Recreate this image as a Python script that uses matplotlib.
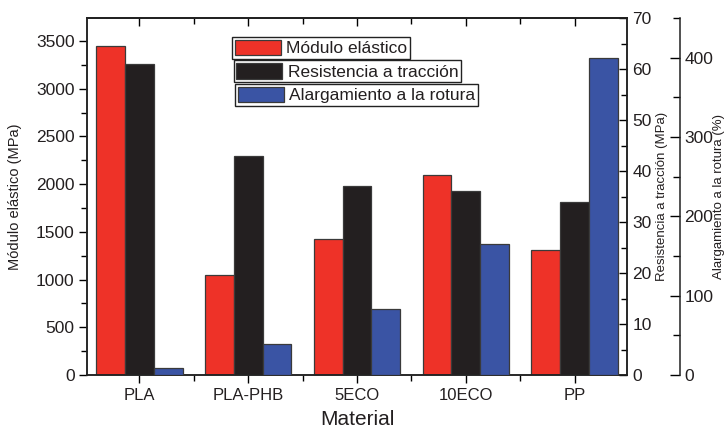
import matplotlib
matplotlib.use("Agg")
import matplotlib.pyplot as plt
import numpy as np
from matplotlib.patches import Patch
from matplotlib.ticker import MultipleLocator

plt.rcParams['font.family'] = ['Liberation Sans', 'DejaVu Sans']

materials = ["PLA", "PLA-PHB", "5ECO", "10ECO", "PP"]
modulo = [3445, 1045, 1430, 2095, 1310]          # MPa (left axis)
resistencia = [60.9, 43.0, 37.1, 36.1, 34.0]     # MPa (right axis)
alargamiento = [8.5, 38.7, 83, 165, 399]         # % (outer right axis)

c_red = "#EE3228"
c_blk = "#231F20"
c_blu = "#3A54A4"
edge = "#3a3a3a"
txt = "#231F20"

fig = plt.figure(figsize=(7.25, 4.28), dpi=100)
ax = fig.add_axes([87/725, 1-375/428, 540/725, 357/428])
ax2 = ax.twinx()
ax3 = ax.twinx()

x = np.arange(len(materials))
w = 0.265
ax.bar(x - w, modulo, w, color=c_red, edgecolor=edge, linewidth=0.9)
ax2.bar(x, resistencia, w, color=c_blk, edgecolor=edge, linewidth=0.9)
ax3.bar(x + w, alargamiento, w, color=c_blu, edgecolor=edge, linewidth=0.9)

ax.set_xlim(-0.48, 4.48)
ax.set_ylim(0, 3742)
ax2.set_ylim(0, 70)
ax3.set_ylim(0, 450)

ax.set_xticks(x)
ax.set_xticklabels(materials, fontsize=12, color=txt)
ax.xaxis.set_minor_locator(MultipleLocator(0.5))
ax.tick_params(axis='x', which='major', direction='out', length=6, width=1, top=False)
ax.tick_params(axis='x', which='minor', direction='out', length=4, width=1, top=False)
ax.set_xlabel("Material", fontsize=15, color=txt, labelpad=5)

ax.yaxis.set_major_locator(MultipleLocator(500))
ax.yaxis.set_minor_locator(MultipleLocator(250))
ax.tick_params(axis='y', which='major', direction='out', length=6, width=1, labelsize=12.5, labelcolor=txt, pad=3)
ax.tick_params(axis='y', which='minor', direction='out', length=4, width=1)
ax.set_ylabel("Módulo elástico (MPa)", fontsize=10.5, color=txt)
ax.yaxis.set_label_coords((15 - 87) / 540, 0.5)
ax.yaxis.label.set_va('center')

ax2.yaxis.set_major_locator(MultipleLocator(10))
ax2.yaxis.set_minor_locator(MultipleLocator(5))
ax2.tick_params(axis='y', which='major', direction='in', length=6, width=1, labelsize=12.5, labelcolor=txt, pad=4)
ax2.tick_params(axis='y', which='minor', direction='in', length=4, width=1)
ax2.set_ylabel("Resistencia a tracción (MPa)", fontsize=9.5, color=txt)
ax2.yaxis.set_label_coords((662 - 87) / 540, 0.5)
ax2.yaxis.label.set_va('center')

ax3.spines['right'].set_position(('axes', (680 - 87) / 540))
ax3.yaxis.set_major_locator(MultipleLocator(100))
ax3.yaxis.set_minor_locator(MultipleLocator(50))
ax3.tick_params(axis='y', which='major', direction='in', length=7, width=1, labelsize=12.5, labelcolor=txt, pad=3)
ax3.tick_params(axis='y', which='minor', direction='in', length=5, width=1)
ax3.set_ylabel("Alargamiento a la rotura (%)", fontsize=9.5, color=txt)
ax3.yaxis.set_label_coords((719 - 87) / 540, 0.5)
ax3.yaxis.label.set_va('center')
for s in ('top', 'left', 'bottom'):
    ax3.spines[s].set_visible(False)

for a in (ax, ax2, ax3):
    for s in a.spines.values():
        s.set_linewidth(1.1)
        s.set_color("#222222")

# inward top ticks via secondary axis
top = ax.secondary_xaxis('top')
top.set_xticks(x)
top.xaxis.set_minor_locator(MultipleLocator(0.5))
top.tick_params(axis='x', which='major', direction='in', length=6, width=1, labeltop=False)
top.tick_params(axis='x', which='minor', direction='in', length=4, width=1)
top.spines['top'].set_linewidth(1.1)

labels = ["Módulo elástico", "Resistencia a tracción", "Alargamiento a la rotura"]
colors = [c_red, c_blk, c_blu]
anchors = [(0.269, 0.947), (0.272, 0.881), (0.274, 0.815)]
legs = []
for lab, col, anc in zip(labels, colors, anchors):
    h = Patch(facecolor=col, edgecolor=edge, linewidth=0.9)
    lg = ax3.legend([h], [lab], loc='upper left', bbox_to_anchor=anc,
                    bbox_transform=ax.transAxes, fontsize=12.5, frameon=True,
                    fancybox=False, framealpha=1, edgecolor="#222222",
                    borderpad=0.15, borderaxespad=0, handlelength=2.65,
                    handleheight=1.0, handletextpad=0.3)
    lg.get_frame().set_linewidth(1.0)
    for t in lg.get_texts():
        t.set_color(txt)
    legs.append(lg)
for lg in legs[:-1]:
    ax3.add_artist(lg)

fig.savefig("out.png", dpi=100)
